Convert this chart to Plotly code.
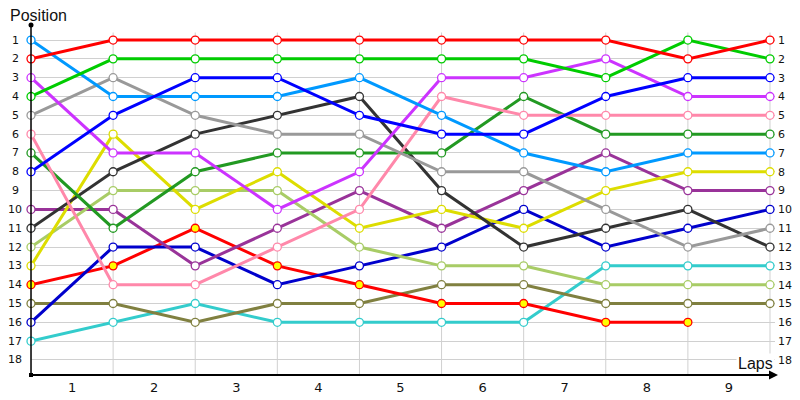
import plotly.graph_objects as go

# ---------------- data ----------------
laps = [0, 1, 2, 3, 4, 5, 6, 7, 8, 9]
lap_labels = ["1", "2", "3", "4", "5", "6", "7", "8", "9"]
positions = list(range(1, 19))

red        = [2, 1, 1, 1, 1, 1, 1, 1, 2, 1]
green      = [4, 2, 2, 2, 2, 2, 2, 3, 1, 2]
blue       = [8, 5, 3, 3, 5, 6, 6, 4, 3, 3]
light_blue = [1, 4, 4, 4, 3, 5, 7, 8, 7, 7]
purple     = [3, 7, 7, 10, 8, 3, 3, 2, 4, 4]
gray       = [5, 3, 5, 6, 6, 8, 8, 10, 12, 11]
pink       = [6, 14, 14, 12, 10, 4, 5, 5, 5, 5]
dark_green = [7, 11, 8, 7, 7, 7, 4, 6, 6, 6]
dark_gray  = [11, 8, 6, 5, 4, 9, 12, 11, 10, 12]
yellow     = [13, 6, 10, 8, 11, 10, 11, 9, 8, 8]
lime       = [12, 9, 9, 9, 12, 13, 13, 14, 14, 14]
violet     = [10, 10, 13, 11, 9, 11, 9, 7, 9, 9]
dark_blue  = [16, 12, 12, 14, 13, 12, 10, 12, 11, 10]
red_yellow = [14, 13, 11, 13, 14, 15, 15, 16, 16, None]
olive      = [15, 15, 16, 15, 15, 14, 14, 15, 15, 15]
cyan       = [17, 16, 15, 16, 16, 16, 16, 13, 13, 13]

series = [
    ("Cyan", cyan, "#33cccc", "white"),
    ("Olive", olive, "#808040", "white"),
    ("Red (yellow)", red_yellow, "#ff0000", "#ffff00"),
    ("Dark blue", dark_blue, "#0000cc", "white"),
    ("Violet", violet, "#993399", "white"),
    ("Lime", lime, "#a8cc66", "white"),
    ("Yellow", yellow, "#dddd00", "white"),
    ("Dark gray", dark_gray, "#333333", "white"),
    ("Dark green", dark_green, "#229922", "white"),
    ("Pink", pink, "#ff88aa", "white"),
    ("Gray", gray, "#999999", "white"),
    ("Purple", purple, "#cc33ff", "white"),
    ("Light blue", light_blue, "#0099ff", "white"),
    ("Blue", blue, "#0000ff", "white"),
    ("Green", green, "#00cc00", "white"),
    ("Red", red, "#ff0000", "white"),
]

FONT = "Liberation Sans"
TICKFONT = "DejaVu Sans"

fig = go.Figure()
for name, vals, col, fill in series:
    fig.add_trace(go.Scatter(
        x=laps, y=vals, mode="lines+markers", name=name,
        line=dict(color=col, width=3),
        marker=dict(size=8, color=fill, line=dict(color=col, width=1.3)),
        cliponaxis=False, showlegend=False,
    ))

shapes = []
# vertical grid lines at every lap
for lx in laps:
    shapes.append(dict(type="line", xref="x", yref="y", x0=lx, x1=lx, y0=0.6, y1=18.8,
                       line=dict(color="#d0d0d0", width=1), layer="below"))
# axis lines
shapes.append(dict(type="line", xref="paper", yref="paper", x0=0, x1=0, y0=0, y1=1,
                   line=dict(color="black", width=1.5)))
shapes.append(dict(type="line", xref="paper", yref="paper", x0=0, x1=0.995, y0=0, y1=0,
                   line=dict(color="black", width=2)))
# dots at axis ends
shapes.append(dict(type="circle", xref="paper", yref="paper", xsizemode="pixel", ysizemode="pixel",
                   xanchor=0, yanchor=1, x0=-2.5, x1=2.5, y0=-2.5, y1=2.5,
                   fillcolor="black", line=dict(color="black", width=0)))
shapes.append(dict(type="rect", xref="paper", yref="paper", xsizemode="pixel", ysizemode="pixel",
                   xanchor=0, yanchor=0, x0=-2, x1=2, y0=-2, y1=2,
                   fillcolor="black", line=dict(color="black", width=0)))

annotations = []
for p in positions:
    annotations.append(dict(xref="paper", yref="y", x=-16 / 744, y=p, text=str(p),
                            showarrow=False, xanchor="center", yanchor="middle",
                            font=dict(family=TICKFONT, size=11, color="#111")))
annotations.append(dict(xref="paper", yref="paper", x=-23 / 744, y=1 + 10 / 350, text="Position",
                        showarrow=False, xanchor="left", yanchor="middle",
                        font=dict(family=FONT, size=16, color="#111")))
annotations.append(dict(xref="paper", yref="paper", x=1.0, y=12 / 350, text="Laps",
                        showarrow=False, xanchor="right", yanchor="middle", bgcolor="white",
                        font=dict(family=FONT, size=16, color="#111")))
# arrow head on x axis
annotations.append(dict(xref="paper", yref="paper", x=1.004, y=0, ax=-14, ay=0, text="",
                        showarrow=True, arrowhead=2, arrowsize=1.2, arrowwidth=1.5,
                        arrowcolor="black"))

# page has an 8px body margin, so the figure is sized/offset to compensate
fig.update_layout(
    width=792, height=392,
    margin=dict(l=23, r=25, t=17, b=25, autoexpand=False),
    plot_bgcolor="white", paper_bgcolor="white",
    shapes=shapes, annotations=annotations,
    xaxis=dict(range=[0, 9.061], tickvals=[l + 0.5 for l in laps[:-1]], ticktext=lap_labels,
               showgrid=False, zeroline=False, showline=False, ticks="", automargin=False,
               ticklabelstandoff=3,
               tickfont=dict(family=TICKFONT, size=13, color="#111")),
    yaxis=dict(range=[18.8, 0.2], tickvals=positions, showticklabels=False, automargin=False,
               showgrid=True, gridcolor="#d0d0d0", gridwidth=1, zeroline=False,
               showline=False, ticks=""),
    yaxis2=dict(range=[18.8, 0.2], tickvals=positions, ticktext=[str(p) for p in positions],
                overlaying="y", side="right", showgrid=False, zeroline=False, automargin=False,
                showline=False, ticks="", ticklabelstandoff=2,
                tickfont=dict(family=TICKFONT, size=11, color="#111")),
)
# invisible trace to activate right axis
fig.add_trace(go.Scatter(x=[None], y=[None], yaxis="y2", showlegend=False, hoverinfo="skip"))

fig.write_html("out.html")
